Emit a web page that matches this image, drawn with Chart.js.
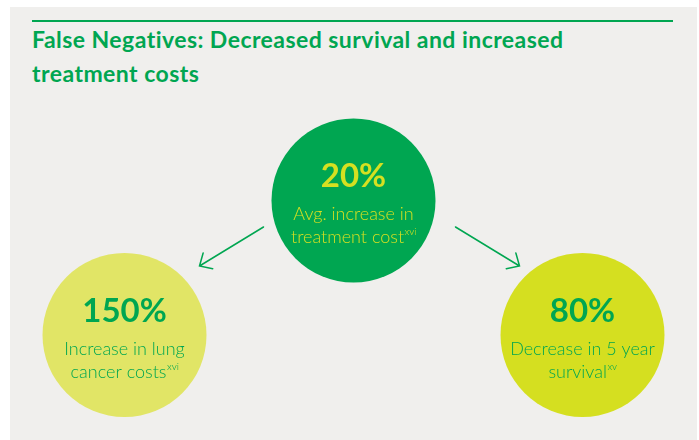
<!DOCTYPE html>
<html>
<head>
<meta charset="utf-8">
<script src="https://cdn.jsdelivr.net/npm/chart.js@4.4.1/dist/chart.umd.min.js"></script>
<style>
  html, body { margin: 0; padding: 0; background: #fff; }
  #panel { position: relative; width: 699px; height: 440px; overflow: hidden; }
  #bg { position: absolute; left: 10px; top: 7px; right: 2px; bottom: 0; background: #f0efed; }
  #rule { position: absolute; left: 32px; top: 20px; width: 641px; height: 1.5px; background: #00a651; }
  #title { position: absolute; left: 32px; top: 22px; margin: 0; font: bold 23px/34px Lato, sans-serif; letter-spacing: 0.45px; color: #00a651; }
  canvas { position: absolute; left: 0; top: 0; }
</style>
</head>
<body>
<div id="panel">
  <div id="bg"></div>
  <div id="rule"></div>
  <h1 id="title">False Negatives: Decreased survival and increased<br>treatment costs</h1>
  <canvas id="chart" width="699" height="440"></canvas>
</div>
<script>
// nodes, left to right; level 1 is the parent, 0 are the outcomes
const categories = ['Lung cancer costs', 'Treatment cost', '5 year survival'];
const levels = [0, 1, 0];
const statValues = ['150%', '20%', '80%'];
const statLines = [
  ['Increase in lung', 'cancer costs'],
  ['Avg. increase in', 'treatment cost'],
  ['Decrease in 5 year', 'survival']
];
const statRefs = ['xvi', 'xvi', 'xv'];

const GREEN = '#00a651';
const FILLS = ['#e1e566', '#00a651', '#d5df20'];
const TEXT_COLORS = ['#00a651', '#d5e021', '#00a651'];
const FONT = 'Lato, "Open Sans", sans-serif';

// arrows from the parent node to each outcome
const arrowPlugin = {
  id: 'arrows',
  afterDatasetsDraw(chart) {
    const pts = chart.getDatasetMeta(0).data;
    const parent = pts[levels.indexOf(1)];
    const ctx = chart.ctx;
    ctx.save();
    ctx.strokeStyle = GREEN;
    ctx.lineWidth = 1.5;
    ctx.lineCap = 'round';
    pts.forEach((child, i) => {
      if (levels[i] === 1) return;
      const side = Math.sign(child.x - parent.x);
      const x0 = parent.x + side * 96 + 6;
      const y0 = parent.y + 26.5;
      const x1 = x0 + side * 64;
      const y1 = y0 + 39;
      const ang = Math.atan2(y0 - y1, x0 - x1);
      const len = 13.5, spread = 0.75;
      ctx.beginPath();
      ctx.moveTo(x0, y0);
      ctx.lineTo(x1, y1);
      ctx.moveTo(x1 + len * Math.cos(ang - spread), y1 + len * Math.sin(ang - spread));
      ctx.lineTo(x1, y1);
      ctx.lineTo(x1 + len * Math.cos(ang + spread), y1 + len * Math.sin(ang + spread));
      ctx.stroke();
    });
    ctx.restore();
  }
};

// the big figure and the caption inside each circle
const labelPlugin = {
  id: 'circleLabels',
  afterDatasetsDraw(chart) {
    const pts = chart.getDatasetMeta(0).data;
    const ctx = chart.ctx;
    ctx.save();
    ctx.textBaseline = 'alphabetic';
    pts.forEach((pt, i) => {
      const x = pt.x, y = pt.y;
      ctx.fillStyle = TEXT_COLORS[i];
      ctx.textAlign = 'center';
      ctx.font = 'bold 33px ' + FONT;
      ctx.fillText(statValues[i], x, y - 13);
      ctx.font = '300 18px ' + FONT;
      ctx.fillText(statLines[i][0], x, y + 19.5);
      // second line carries the superscript reference
      const line2 = statLines[i][1];
      const w2 = ctx.measureText(line2).width;
      ctx.font = '300 10px ' + FONT;
      const wr = ctx.measureText(statRefs[i]).width;
      const start = x - (w2 + wr) / 2;
      ctx.textAlign = 'left';
      ctx.font = '300 18px ' + FONT;
      ctx.fillText(line2, start, y + 42.5);
      ctx.font = '300 10px ' + FONT;
      ctx.fillText(statRefs[i], start + w2 + 0.5, y + 35);
    });
    ctx.restore();
  }
};

new Chart(document.getElementById('chart'), {
  type: 'bubble',
  data: {
    labels: categories,
    datasets: [{
      data: categories.map((c, i) => ({ x: c, y: levels[i] })),
      backgroundColor: FILLS,
      borderWidth: 0,
      radius: 82,
      hoverRadius: 0,
      clip: false
    }]
  },
  options: {
    responsive: false,
    animation: false,
    events: [],
    layout: { autoPadding: false, padding: { left: 10, right: 2, top: 0, bottom: 0 } },
    scales: {
      x: { type: 'category', offset: true, display: false },
      y: { type: 'linear', min: -0.78, max: 2.49, display: false }
    },
    plugins: {
      legend: { display: false },
      tooltip: { enabled: false }
    }
  },
  plugins: [arrowPlugin, labelPlugin]
});
</script>
</body>
</html>
